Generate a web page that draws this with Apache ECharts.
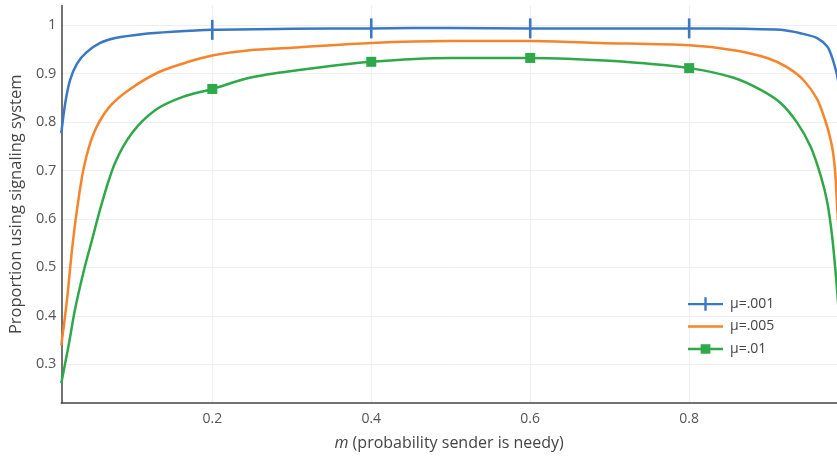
<!DOCTYPE html>
<html>
<head>
<meta charset="utf-8">
<script src="https://cdn.jsdelivr.net/npm/echarts@6/dist/echarts.min.js"></script>
<style>
html,body{margin:0;padding:0;background:#fff;}
#c{width:837px;height:456px;}
</style>
</head>
<body>
<div id="c"></div>
<script>
// ---- data ----
var seriesNames = ['μ=.001', 'μ=.005', 'μ=.01'];
var markerM = [0.2, 0.4, 0.6, 0.8];

var blueM = [0.01, 0.015, 0.021, 0.03, 0.042, 0.059, 0.078, 0.111, 0.15, 0.2, 0.3, 0.4, 0.5, 0.6, 0.7, 0.8, 0.87, 0.915, 0.94, 0.961, 0.974, 0.98, 0.984, 0.986, 0.99];
var blueY = [0.777, 0.839, 0.886, 0.921, 0.944, 0.963, 0.973, 0.981, 0.986, 0.99, 0.992, 0.993, 0.994, 0.993, 0.993, 0.993, 0.992, 0.99, 0.983, 0.973, 0.955, 0.932, 0.91, 0.897, 0.86];

var orangeM = [0.01, 0.017, 0.0234, 0.0297, 0.0385, 0.051, 0.07, 0.095, 0.133, 0.17, 0.203, 0.247, 0.3, 0.4, 0.5, 0.6, 0.688, 0.8, 0.856, 0.898, 0.923, 0.944, 0.961, 0.971, 0.977, 0.981, 0.984, 0.986, 0.99];
var orangeY = [0.339, 0.43, 0.535, 0.618, 0.707, 0.777, 0.83, 0.866, 0.903, 0.924, 0.938, 0.948, 0.953, 0.963, 0.967, 0.967, 0.963, 0.958, 0.948, 0.932, 0.913, 0.886, 0.847, 0.804, 0.77, 0.737, 0.69, 0.63, 0.52];

var greenM = [0.01, 0.0197, 0.027, 0.0385, 0.0486, 0.061, 0.0776, 0.099, 0.128, 0.162, 0.2, 0.247, 0.3, 0.4, 0.5, 0.6, 0.7, 0.8, 0.856, 0.89, 0.915, 0.936, 0.953, 0.966, 0.974, 0.98, 0.984, 0.986, 0.99];
var greenY = [0.261, 0.343, 0.411, 0.494, 0.556, 0.632, 0.715, 0.777, 0.824, 0.851, 0.868, 0.891, 0.905, 0.924, 0.932, 0.932, 0.926, 0.911, 0.891, 0.866, 0.839, 0.798, 0.748, 0.686, 0.632, 0.562, 0.494, 0.455, 0.37];

var colors = ['#3a78c4', '#f7832b', '#2fa849'];
var FONT = "'Open Sans', 'Noto Sans', sans-serif";

function build(ms, ys) {
  return ms.map(function (m, i) {
    var isMark = markerM.indexOf(m) >= 0;
    return isMark ? { value: [m, ys[i]] } : { value: [m, ys[i]], symbol: 'none' };
  });
}

var chart = echarts.init(document.getElementById('c'), null, { renderer: 'canvas' });
chart.setOption({
  animation: false,
  backgroundColor: '#fff',
  color: colors,
  textStyle: { fontFamily: FONT },
  grid: { left: 59, top: 5.6, right: 0, height: 397.4, containLabel: false },
  legend: {
    left: 683, top: 292, orient: 'vertical',
    itemWidth: 35, itemHeight: 14, itemGap: 8.5,
    textStyle: { fontFamily: FONT, fontSize: 14, color: '#444', padding: [0, 0, 0, 2] },
    data: [
      { name: seriesNames[0], icon: 'path://M0,6 L36,6 L36,8.4 L0,8.4 Z M16.8,0 L19.2,0 L19.2,14 L16.8,14 Z' },
      { name: seriesNames[1], icon: 'path://M0,6 L36,6 L36,8.4 L0,8.4 Z' },
      { name: seriesNames[2], icon: 'path://M0,6 L36,6 L36,8.4 L0,8.4 Z M13,2.4 L23,2.4 L23,12 L13,12 Z' }
    ]
  },
  xAxis: {
    type: 'value', min: 0.01, max: 0.986, splitNumber: 5,
    axisLine: { show: true, onZero: false, lineStyle: { color: '#444', width: 1.5 } },
    axisTick: { show: false },
    axisLabel: { showMinLabel: false, showMaxLabel: false, color: '#555', fontSize: 14, margin: 9, fontFamily: FONT },
    splitLine: { show: true, showMinLine: false, showMaxLine: false, lineStyle: { color: '#eeeeee', width: 1 } },
    name: '{i|m} (probability sender is needy)',
    nameLocation: 'middle', nameGap: 32,
    nameTextStyle: { color: '#444', fontSize: 16, fontFamily: FONT,
      rich: { i: { fontStyle: 'italic', color: '#444', fontSize: 16, fontFamily: FONT } } }
  },
  yAxis: {
    type: 'value', min: 0.22, max: 1.04, splitNumber: 8,
    axisLine: { show: true, onZero: false, lineStyle: { color: '#444', width: 1.5 } },
    axisTick: { show: false },
    axisLabel: { showMinLabel: false, showMaxLabel: false, color: '#555', fontSize: 14.5, margin: 5, fontFamily: FONT },
    splitLine: { show: true, showMinLine: false, showMaxLine: false, lineStyle: { color: '#eeeeee', width: 1 } },
    name: 'Proportion using signaling system',
    nameLocation: 'middle', nameGap: 36,
    nameTextStyle: { color: '#444', fontSize: 16.5, fontFamily: FONT }
  },
  series: [
    { name: seriesNames[0], type: 'line', data: build(blueM, blueY), smooth: 0.3,
      symbol: 'rect', symbolSize: [2.6, 20], showSymbol: true,
      lineStyle: { width: 2.5, color: colors[0] }, itemStyle: { color: colors[0] }, z: 3 },
    { name: seriesNames[1], type: 'line', data: build(orangeM, orangeY), smooth: 0.3,
      symbol: 'none', lineStyle: { width: 2.5, color: colors[1] }, itemStyle: { color: colors[1] }, z: 2 },
    { name: seriesNames[2], type: 'line', data: build(greenM, greenY), smooth: 0.3,
      symbol: 'rect', symbolSize: 10, showSymbol: true,
      lineStyle: { width: 2.5, color: colors[2] }, itemStyle: { color: colors[2] }, z: 1 }
  ]
});
</script>
</body>
</html>
